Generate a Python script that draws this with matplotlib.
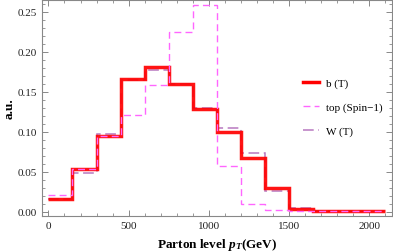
import numpy as np
import matplotlib
matplotlib.use("Agg")
import matplotlib.pyplot as plt
from matplotlib.ticker import MultipleLocator, FormatStrFormatter
from matplotlib.lines import Line2D

# histogram bins (GeV)
bin_edges = np.arange(0, 2101, 150)

# normalised distributions
b_T = [0.0156, 0.053, 0.094, 0.166, 0.181, 0.160, 0.128, 0.0998, 0.067, 0.030, 0.003, 0.0006, 0.0005, 0.0004]
top_spin1 = [0.021, 0.053, 0.094, 0.121, 0.158, 0.225, 0.259, 0.0565, 0.0094, 0.0015, 0.0008, 0.0005, 0.0003, 0.0002]
W_T = [0.016, 0.048, 0.097, 0.165, 0.177, 0.160, 0.130, 0.104, 0.0727, 0.0256, 0.004, 0.0012, 0.0008, 0.0005]

labels = ["b (T)", "top (Spin\u22121)", "W (T)"]

plt.rcParams['font.family'] = ['Liberation Serif', 'DejaVu Serif']
plt.rcParams['mathtext.fontset'] = 'custom'
plt.rcParams['mathtext.rm'] = 'Liberation Serif'
plt.rcParams['mathtext.it'] = 'Liberation Serif:italic'
plt.rcParams['mathtext.bf'] = 'Liberation Serif:bold'
plt.rcParams['mathtext.bfit'] = 'Liberation Serif:italic:bold'

fig = plt.figure(figsize=(3.93, 2.53), dpi=100)
ax = fig.add_axes([0.106, 0.141, 0.892, 0.857])

col_b = '#ff0000'
col_top = '#ff66ff'
col_W = '#b878c0'

ax.stairs(W_T, bin_edges, color=col_W, lw=1.1, ls=(0, (7, 3)), baseline=None, zorder=2)
ax.stairs(b_T, bin_edges, color=col_b, lw=2.5, alpha=0.92, baseline=None, zorder=3)
ax.stairs(top_spin1, bin_edges, color=col_top, lw=1.0, ls=(0, (5, 3)), baseline=None, zorder=4)

ax.set_xlim(-42, 2142)
ax.set_ylim(-0.006, 0.2655)

ax.xaxis.set_major_locator(MultipleLocator(500))
ax.xaxis.set_minor_locator(MultipleLocator(100))
ax.yaxis.set_major_locator(MultipleLocator(0.05))
ax.yaxis.set_minor_locator(MultipleLocator(0.01))
ax.yaxis.set_major_formatter(FormatStrFormatter('%.2f'))

ax.tick_params(which='both', direction='in', top=True, right=True,
               color='#888888', labelsize=8, labelcolor='#222222')
ax.tick_params(which='major', length=4, width=0.7)
ax.tick_params(which='minor', length=2, width=0.6)
for s in ax.spines.values():
    s.set_color('#888888')
    s.set_linewidth(0.8)

ax.set_xlabel(r'Parton level $\mathbfit{p}_{\mathbfit{T}}$(GeV)', fontsize=9.5, fontweight='bold', va='center')
ax.set_ylabel('a.u.', fontsize=9.5, fontweight='bold', va='center')
ax.xaxis.set_label_coords(0.5, -0.128)
ax.yaxis.set_label_coords(-0.09, 0.5)

handles = [Line2D([], [], color=col_b, lw=2.5),
           Line2D([], [], color=col_top, lw=1.0, ls=(0, (5, 3))),
           Line2D([], [], color=col_W, lw=1.1, ls=(0, (7, 3)))]
ax.legend(handles, labels, loc='center left', bbox_to_anchor=(0.746, 0.504),
          frameon=False, fontsize=8, handlelength=1.45, handletextpad=0.6,
          labelspacing=1.25, borderpad=0, borderaxespad=0)

fig.savefig('out.png', dpi=100)
